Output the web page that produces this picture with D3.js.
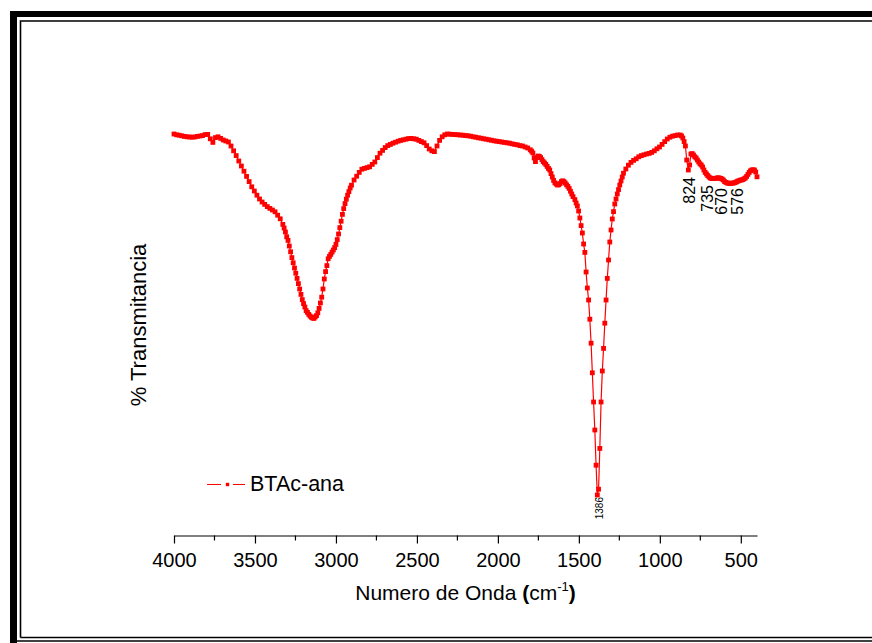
<!DOCTYPE html>
<html><head><meta charset="utf-8">
<script src="https://cdn.jsdelivr.net/npm/d3@7"></script>
<style>body{margin:0;background:#fff}svg{display:block}</style>
</head><body>
<svg id="chart" width="872" height="643"></svg>
<script>
// FTIR spectrum: [wavenumber (cm-1), % transmittance]
const spectrum = [
[4000,96.5],[3984,96.3],[3968,96.2],[3952,96.05],[3936,95.9],[3920,95.8],[3904,95.75],[3888,95.7],[3872,95.75],[3856,95.9],
[3840,96.0],[3824,96.1],[3808,96.35],[3792,96.4],[3776,95.3],[3760,94.4],[3744,95.6],[3728,95.8],[3712,95.4],[3696,95.0],
[3680,94.75],[3664,94.5],[3648,93.5],[3632,92.3],[3616,91.1],[3600,89.75],[3584,88.5],[3568,87.2],[3552,85.9],[3536,84.6],
[3520,83.3],[3504,82.25],[3488,81.2],[3472,80.25],[3456,79.5],[3440,78.9],[3424,78.35],[3408,77.9],[3392,77.5],[3376,77.05],
[3360,76.2],[3344,75.3],[3328,73.9],
[3320,73.0],[3312,72.0],[3304,70.8],[3296,69.9],[3288,68.5],[3280,67.05],[3272,65.6],[3264,64.3],[3256,63.0],[3248,61.7],
[3240,60.4],[3232,59.1],[3224,57.75],[3216,56.4],[3208,55.1],[3200,54.1],[3192,53.25],[3184,52.35],[3176,51.9],[3168,51.4],
[3160,51.0],[3152,50.7],[3144,50.5],[3136,50.4],[3128,50.75],[3120,51.1],[3112,51.8],[3104,52.9],[3096,54.25],[3088,55.7],
[3080,57.75],[3072,60.25],[3064,62.1],[3056,63.6],[3048,65.3],[3040,65.9],[3032,66.4],[3024,66.97],[3016,67.5],[3008,68.1],
[3000,68.9],[2992,70.1],[2984,71.5],[2976,73.1],[2968,74.7],[2960,76.4],[2952,77.85],[2944,79.1],[2936,80.2],[2928,81.2],
[2920,82.1],[2912,83.0],[2904,83.7],
[2888,85.0],[2872,85.95],[2856,86.9],[2840,87.7],[2824,87.9],[2808,88.1],[2792,88.3],[2776,88.9],[2760,89.5],[2744,90.6],
[2728,91.7],[2712,92.4],[2696,93.1],[2680,93.6],[2664,93.9],[2648,94.2],[2632,94.45],[2616,94.7],[2600,94.9],[2584,95.05],
[2568,95.2],[2552,95.35],[2536,95.4],[2520,95.3],[2504,95.2],[2488,94.9],[2472,94.6],[2456,94.3],[2440,93.6],[2424,92.75],
[2408,92.3],[2392,92.1],[2376,93.5],[2360,94.9],[2344,95.8],[2328,96.3],[2312,96.5],[2296,96.45],[2280,96.4],[2264,96.35],
[2248,96.3],[2232,96.25],[2216,96.2],[2200,96.1],[2184,96.05],[2168,95.95],[2152,95.8],[2136,95.7],[2120,95.55],[2104,95.45],
[2088,95.3],[2072,95.2],[2056,95.05],[2040,94.95],[2024,94.8],[2008,94.7],[1992,94.6],[1976,94.5],[1960,94.4],[1944,94.3],
[1928,94.2],[1912,94.05],[1896,93.9],[1880,93.8],[1864,93.6],[1848,93.5],[1832,93.25],[1816,93.0],[1800,92.55],
[1792,92.2],[1784,91.75],[1776,90.5],[1768,89.6],[1760,90.6],[1752,91.0],[1744,90.9],[1736,90.6],[1728,90.1],[1720,89.6],
[1712,89.25],[1704,88.9],[1696,88.4],[1688,87.9],[1680,87.5],[1672,86.6],[1664,85.75],[1656,84.9],[1648,84.3],[1640,84.0],
[1632,83.75],[1624,83.8],[1616,84.1],[1608,84.6],[1600,84.8],[1592,84.6],[1584,84.25],[1576,83.8],[1568,83.4],[1560,82.9],
[1552,82.2],[1544,81.5],[1536,80.85],[1524.6,80.1],[1516.9,79.25],[1509.2,78.5],[1501.5,77.25],[1493.8,75.5],[1486.1,73.6],[1478.4,71.75],
[1470.7,69.0],[1463,66.9],[1455.3,62.0],[1447.6,58.0],[1439.9,55.0],[1432.2,50.2],[1424.5,44.2],[1416.8,36.8],[1409.1,29.5],[1401.4,22.5],
[1393.7,13.7],[1386,6.25],[1378.3,7.7],[1370.6,17.9],[1362.9,29.5],[1355.2,37.25],[1347.5,42.9],[1339.8,49.2],[1332.1,55.0],[1324.4,60.4],
[1316.7,65.0],[1309,69.5],[1301.3,72.5],[1293.6,75.25],[1285.9,77.1],[1278.2,79.0],[1270.5,80.25],[1262.8,81.5],[1255.1,82.6],[1247.4,83.75],
[1239.7,84.75],[1232,85.75],[1224.3,86.7],
[1210,87.75],[1194,88.7],[1178,89.4],[1162,89.9],[1146,90.3],[1130,90.8],[1114,91.1],[1098,91.3],[1082,91.5],[1066,91.65],
[1050,91.9],[1034,92.3],[1018,92.8],[1002,93.25],[986,93.9],[970,94.6],[954,95.25],[938,95.7],[922,95.95],[906,96.1],
[890,96.25],[874,96.25],
[866,96.0],[858,95.5],[850,94.6],[842,93.5],[834,90.0],[824,87.5],[816,88.75],[808,91.5],[800,91.6],[792,91.25],
[784,90.8],[776,90.5],[768,90.0],[760,89.5],[752,89.05],[744,88.75],[736,88.25],[728,87.5],[720,86.9],[712,86.5],
[704,86.1],[696,85.75],[688,85.5],[680,85.4],[672,85.35],[664,85.4],[656,85.4],[648,85.5],[640,85.55],[632,85.5],
[624,85.4],[616,85.25],[608,85.0],[600,84.6],[592,84.4],[584,84.25],[576,84.2],[568,84.15],[560,84.2],[552,84.2],
[544,84.25],[536,84.35],[528,84.5],[520,84.7],[512,84.8],[504,84.95],[496,85.0],[488,85.1],[480,85.3],[472,85.5],
[464,85.9],[456,86.4],[448,86.9],[440,87.3],[432,87.5],[424,87.55],[416,87.5],[408,87.0],[400,85.8]
];
const seriesName = "BTAc-ana";
const xTicks = [4000, 3500, 3000, 2500, 2000, 1500, 1000, 500];
const xMinorTicks = [3750, 3250, 2750, 2250, 1750, 1250, 750];
const peakLabels = ["1386", "824", "735", "670", "576"];
const xTitle = "Numero de Onda ";
const yTitle = "% Transmitancia";

const svg = d3.select("#chart");
const FONT = "'Liberation Sans', Arial, Helvetica, sans-serif";
const RED = "#ff0000";

// frame
svg.append("rect").attr("x",10).attr("y",11).attr("width",7).attr("height",640).attr("fill","#000");
svg.append("rect").attr("x",10).attr("y",11).attr("width",870).attr("height",6).attr("fill","#000");
svg.append("path").attr("d","M20.5,637.5 V21 H880").attr("fill","none").attr("stroke","#000").attr("stroke-width",1.6);
svg.append("path").attr("d","M20.5,637.5 H880").attr("fill","none").attr("stroke","#000").attr("stroke-width",1.6);
svg.append("path").attr("d","M17,641 H880").attr("fill","none").attr("stroke","#000").attr("stroke-width",1.6);

const x = d3.scaleLinear().domain([4000, 400]).range([174, 757]);
const y = d3.scaleLinear().domain([0, 100]).range([520, 120]);

// x axis
const axisY = 535.5;
const gx = svg.append("g").attr("transform", `translate(0,${axisY})`)
  .call(d3.axisBottom(x).tickValues(xTicks).tickSize(8).tickSizeOuter(0).tickFormat(d3.format("d")));
gx.select(".domain").attr("stroke","#000").attr("stroke-width",1.2);
gx.selectAll(".tick line").attr("stroke","#000").attr("stroke-width",1.2);
gx.selectAll(".tick text").attr("font-family",FONT).attr("font-size",20).attr("fill","#000")
  .attr("dy",null).attr("y",31.5);
const gm = svg.append("g").attr("transform", `translate(0,${axisY})`);
gm.selectAll("line").data(xMinorTicks).join("line")
  .attr("x1", d => x(d)).attr("x2", d => x(d)).attr("y1",0).attr("y2",5)
  .attr("stroke","#000").attr("stroke-width",1.2);

// axis titles
const xt = svg.append("text").attr("x", (x(4000)+x(400))/2).attr("y", 600)
  .attr("text-anchor","middle").attr("font-family",FONT).attr("font-size",21).attr("fill","#000");
xt.append("tspan").text(xTitle);
xt.append("tspan").attr("font-weight","bold").text("(");
xt.append("tspan").text("cm");
xt.append("tspan").attr("font-size",13).attr("dy",-9).text("-1");
xt.append("tspan").attr("dy",9).attr("font-weight","bold").text(")");

svg.append("text").attr("transform","translate(146,325) rotate(-90)")
  .attr("text-anchor","middle").attr("font-family",FONT).attr("font-size",22).attr("fill","#000")
  .text(yTitle);

// series
const line = d3.line().x(d => x(d[0])).y(d => y(d[1]));
svg.append("path").datum(spectrum).attr("d", line)
  .attr("fill","none").attr("stroke",RED).attr("stroke-width",1.2);
const ms = 4.8;
svg.append("g").selectAll("rect").data(spectrum).join("rect")
  .attr("x", d => x(d[0]) - ms/2).attr("y", d => y(d[1]) - ms/2)
  .attr("width", ms).attr("height", ms).attr("fill", RED);

// peak labels
const labelLayout = {
  "1386": {dx: 6, top: 497, size: 10},
  "824": {dx: 6.5, top: 177, size: 16},
  "735": {dx: 10.5, top: 185, size: 16},
  "670": {dx: 13.4, top: 188, size: 16},
  "576": {dx: 14.8, top: 188, size: 16}
};
peakLabels.forEach(t => {
  const L = labelLayout[t];
  const px = x(+t) + L.dx;
  svg.append("text").attr("transform", `translate(${px},${L.top}) rotate(-90)`)
    .attr("text-anchor","end").attr("font-family",FONT).attr("font-size",L.size).attr("fill","#000")
    .text(t);
});

// legend
const lg = svg.append("g");
lg.append("line").attr("x1",207).attr("x2",221).attr("y1",484.5).attr("y2",484.5).attr("stroke",RED).attr("stroke-width",1);
lg.append("line").attr("x1",233).attr("x2",245).attr("y1",484.5).attr("y2",484.5).attr("stroke",RED).attr("stroke-width",1);
lg.append("rect").attr("x",225.8).attr("y",482.8).attr("width",3.4).attr("height",3.4).attr("fill",RED);
lg.append("text").attr("x",250).attr("y",491).attr("font-family",FONT).attr("font-size",21.5).attr("fill","#000").text(seriesName);
</script>
</body></html>
